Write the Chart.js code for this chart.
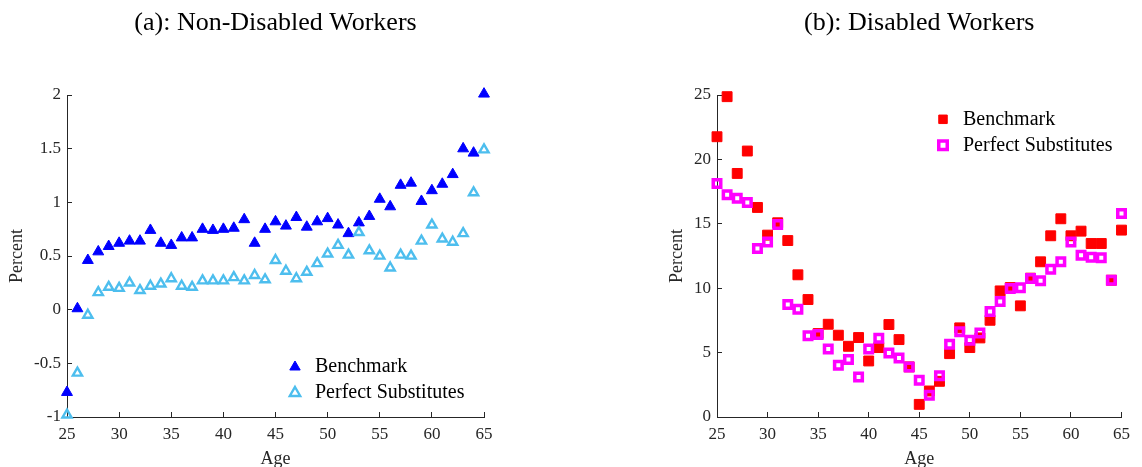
<!DOCTYPE html>
<html>
<head>
<meta charset="utf-8">
<script src="https://cdn.jsdelivr.net/npm/chart.js@4.4.1/dist/chart.umd.min.js"></script>
<style>
  html, body { margin: 0; padding: 0; background: #fff; overflow: hidden; width: 1142px; height: 467px; }
  canvas { position: absolute; top: 0; }
  #nondisabled { left: 0; }
  #disabled { left: 660px; }
</style>
</head>
<body>
<canvas id="nondisabled" width="560" height="480"></canvas>
<canvas id="disabled" width="482" height="480"></canvas>
<script>
const ages = [25, 26, 27, 28, 29, 30, 31, 32, 33, 34, 35, 36, 37, 38, 39, 40, 41, 42, 43, 44, 45,
              46, 47, 48, 49, 50, 51, 52, 53, 54, 55, 56, 57, 58, 59, 60, 61, 62, 63, 64, 65];
const ageTicks = [25, 30, 35, 40, 45, 50, 55, 60, 65];
const ndTicks = [-1, -0.5, 0, 0.5, 1, 1.5, 2];
const dTicks = [0, 5, 10, 15, 20, 25];

// (a) non-disabled workers, percent
const ndBenchmark = [-0.77, 0.01, 0.46, 0.54, 0.59, 0.62, 0.64, 0.64, 0.74, 0.62, 0.60, 0.67, 0.67, 0.75,
                     0.74, 0.75, 0.76, 0.84, 0.62, 0.75, 0.82, 0.78, 0.86, 0.77, 0.82, 0.85, 0.79, 0.71,
                     0.81, 0.87, 1.03, 0.96, 1.16, 1.18, 1.01, 1.11, 1.17, 1.26, 1.50, 1.46, 2.01];
const ndPerfectSubs = [-0.98, -0.59, -0.05, 0.16, 0.21, 0.20, 0.25, 0.18, 0.22, 0.24, 0.29, 0.22, 0.21, 0.27,
                       0.27, 0.27, 0.30, 0.27, 0.32, 0.28, 0.46, 0.36, 0.29, 0.35, 0.43, 0.52, 0.60, 0.51,
                       0.72, 0.55, 0.50, 0.39, 0.51, 0.50, 0.64, 0.79, 0.66, 0.63, 0.71, 1.09, 1.49];

// (b) disabled workers, percent
const dBenchmark = [21.76, 24.87, 18.91, 20.65, 16.27, 14.12, 15.08, 13.70, 11.04, 9.12, 6.48, 7.20, 6.35, 5.49,
                    6.17, 4.35, 5.39, 7.18, 6.01, 3.89, 0.98, 2.02, 2.77, 4.92, 6.92, 5.39, 6.14, 7.51,
                    9.79, 10.05, 8.63, 10.78, 12.05, 14.07, 15.39, 14.07, 14.43, 13.47, 13.47, 10.62, 14.51];
const dPerfectSubs = [18.13, 17.25, 16.99, 16.66, 13.08, 13.58, 14.95, 8.73, 8.37, 6.30, 6.40, 5.28, 4.02, 4.46,
                      3.11, 5.28, 6.11, 4.97, 4.59, 3.89, 2.85, 1.68, 3.21, 5.65, 6.61, 5.96, 6.53, 8.19,
                      8.96, 9.97, 10.03, 10.75, 10.57, 11.48, 12.05, 13.58, 12.56, 12.41, 12.36, 10.62, 15.80];

const serif = 'Liberation Serif';
const ink = '#262626';

function points(values) {
  return ages.map((a, i) => ({ x: a, y: values[i] }));
}

function fixedTicks(list) {
  return scale => { scale.ticks = list.map(v => ({ value: v })); };
}

// put the built-in legend at an offset inside the plot area
function legendAt(dx, dy) {
  return {
    id: 'legendAt',
    afterUpdate(chart) {
      const lg = chart.legend, area = chart.chartArea;
      const w = lg.width, h = lg.height;
      lg.left = area.left + dx;
      lg.top = area.top + dy;
      lg.right = lg.left + w;
      lg.bottom = lg.top + h;
      lg.adjustHitBoxes();
    }
  };
}

function axis(min, max, tickList, fit, text) {
  const horizontal = text === 'Age';
  return {
    type: 'linear',
    min: min,
    max: max,
    afterBuildTicks: fixedTicks(tickList),
    afterFit: horizontal ? s => { s.height = fit; } : s => { s.width = fit; },
    // negative tick length puts the tick marks inside the plot
    grid: { display: true, drawOnChartArea: false, drawTicks: true, tickLength: -5, color: ink, lineWidth: 1 },
    border: { display: true, color: ink, width: 1 },
    ticks: {
      font: { family: serif, size: 17 },
      color: ink,
      padding: horizontal ? 12 : 11,
      maxRotation: 0,
      autoSkip: false,
      callback: v => String(v)
    },
    title: {
      display: true,
      text: text,
      color: ink,
      font: { family: serif, size: 18 },
      padding: horizontal ? { top: 0, bottom: 10 } : { top: 6, bottom: 0 }
    }
  };
}

function makeChart(id, title, datasets, xAxis, yAxis, padRight, legendDx, legendDy) {
  return new Chart(document.getElementById(id), {
    type: 'scatter',
    data: { datasets: datasets },
    options: {
      responsive: false,
      animation: false,
      events: [],
      layout: { padding: { left: 0, right: padRight, top: 0, bottom: 0 } },
      scales: { x: xAxis, y: yAxis },
      plugins: {
        title: {
          display: true,
          text: title,
          fullSize: false,
          color: '#000',
          font: { family: serif, size: 26, weight: 'normal' },
          padding: { top: 8, bottom: 55.8 }
        },
        legend: {
          position: 'chartArea',
          align: 'start',
          labels: {
            usePointStyle: true,
            boxHeight: 8.5,
            padding: 6,
            color: '#000',
            font: { family: serif, size: 20 },
            sort: (a, b) => a.datasetIndex - b.datasetIndex
          }
        },
        tooltip: { enabled: false }
      }
    },
    plugins: [legendAt(legendDx, legendDy)]
  });
}

makeChart('nondisabled', '(a): Non-Disabled Workers', [
  {
    label: 'Benchmark',
    data: points(ndBenchmark),
    pointStyle: 'triangle',
    pointRadius: 6.3,
    pointBackgroundColor: '#0000ff',
    pointBorderColor: '#0000ff',
    pointBorderWidth: 1,
    clip: false,
    order: 1
  },
  {
    label: 'Perfect Substitutes',
    data: points(ndPerfectSubs),
    pointStyle: 'triangle',
    pointRadius: 5.3,
    pointBackgroundColor: 'rgba(0,0,0,0)',
    pointBorderColor: '#4dbeee',
    pointBorderWidth: 2.4,
    clip: false,
    order: 0
  }
], axis(25, 65, ageTicks, 63, 'Age'), axis(-1, 2, ndTicks, 67, 'Percent'), 76, 212, 256);

makeChart('disabled', '(b): Disabled Workers', [
  {
    label: 'Benchmark',
    data: points(dBenchmark),
    pointStyle: 'rect',
    pointRadius: 7,
    pointBackgroundColor: '#ff0000',
    pointBorderColor: '#ff0000',
    pointBorderWidth: 1,
    clip: false,
    order: 1
  },
  {
    label: 'Perfect Substitutes',
    data: points(dPerfectSubs),
    pointStyle: 'rect',
    pointRadius: 5.3,
    pointBackgroundColor: 'rgba(0,0,0,0)',
    pointBorderColor: '#ff00ff',
    pointBorderWidth: 3.5,
    clip: false,
    order: 0
  }
], axis(25, 65, ageTicks, 63, 'Age'), axis(0, 25, dTicks, 57, 'Percent'), 8, 210, 8.3);
</script>
</body>
</html>
